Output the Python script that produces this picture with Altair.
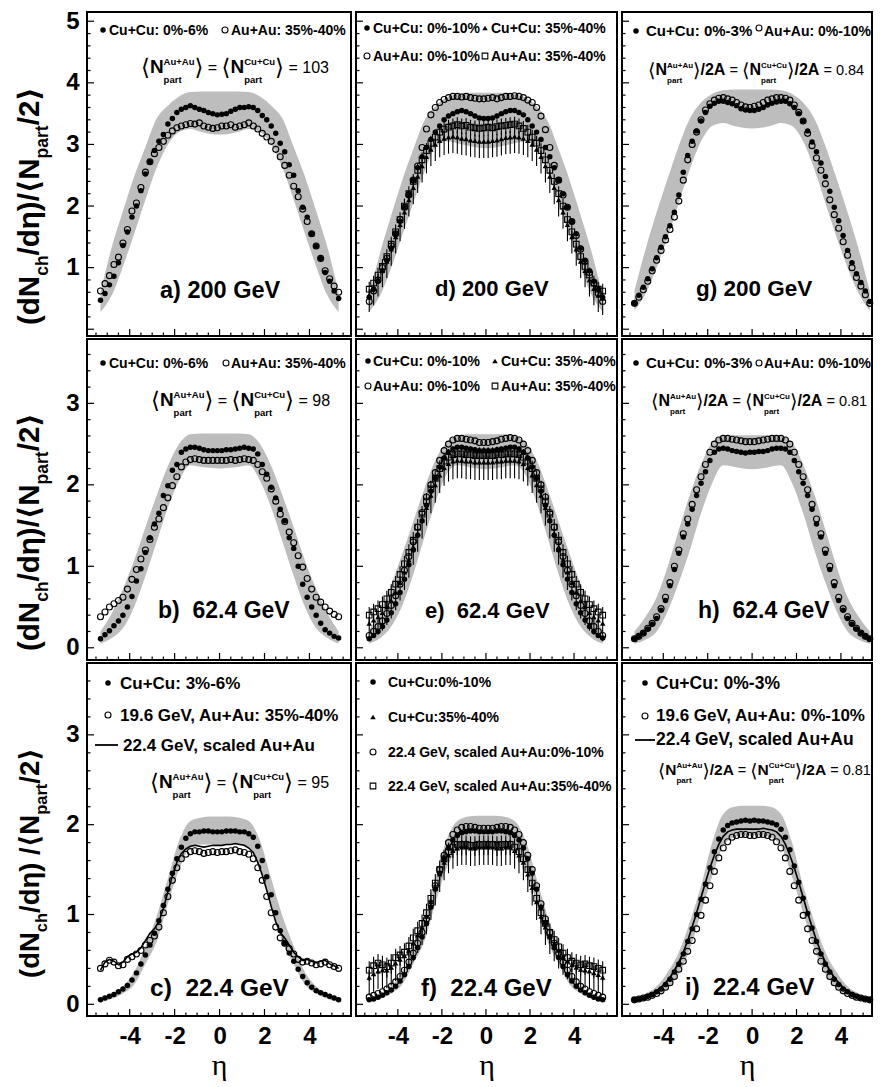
import altair as alt
import pandas as pd

# ---------------- data ----------------
ETA = [-5.3, -5.1, -4.9, -4.7, -4.5, -4.3, -4.1, -3.9, -3.7, -3.5, -3.3, -3.1, -2.9, -2.7,
       -2.5, -2.3, -2.1, -1.9, -1.7, -1.5, -1.3, -1.1, -0.9, -0.7, -0.5, -0.3, -0.1,
       0.1, 0.3, 0.5, 0.7, 0.9, 1.1, 1.3, 1.5, 1.7, 1.9, 2.1, 2.3, 2.5, 2.7, 2.9, 3.1,
       3.3, 3.5, 3.7, 3.9, 4.1, 4.3, 4.5, 4.7, 4.9, 5.1, 5.3]
BAND_ETA = [-5.3, -4.8, -4.3, -3.8, -3.3, -2.8, -2.3, -1.8, -1.3, -0.8, -0.4, 0.0,
            0.4, 0.8, 1.3, 1.8, 2.3, 2.8, 3.3, 3.8, 4.3, 4.8, 5.3]

# a) 200 GeV
A_CU = [0.47, 0.58, 0.72, 0.86, 1.08, 1.36, 1.58, 1.82, 2.00, 2.25, 2.52, 2.72, 2.90, 3.05, 3.16, 3.33, 3.42, 3.52, 3.57, 3.60, 3.63, 3.60, 3.57, 3.55, 3.52, 3.50, 3.48] + \
       [3.49, 3.50, 3.54, 3.57, 3.60, 3.60, 3.61, 3.60, 3.55, 3.47, 3.40, 3.30, 3.18, 3.02, 2.88, 2.67, 2.50, 2.25, 1.98, 1.82, 1.55, 1.35, 1.15, 0.92, 0.78, 0.62, 0.50]
A_AU = [0.62, 0.74, 0.87, 1.05, 1.17, 1.40, 1.62, 1.92, 2.05, 2.30, 2.55, 2.72, 2.85, 2.95, 3.05, 3.15, 3.22, 3.27, 3.30, 3.32, 3.34, 3.33, 3.35, 3.30, 3.28, 3.26, 3.27] + \
       [3.30, 3.30, 3.32, 3.28, 3.30, 3.32, 3.35, 3.30, 3.25, 3.18, 3.12, 3.05, 2.92, 2.80, 2.66, 2.50, 2.32, 2.15, 1.95, 1.75, 1.55, 1.35, 1.15, 0.95, 0.82, 0.70, 0.60]
A_HI = [0.60, 1.33, 1.92, 2.48, 2.96, 3.42, 3.63, 3.78, 3.85, 3.86, 3.86, 3.86, 3.86, 3.86, 3.85, 3.78, 3.63, 3.42, 2.96, 2.48, 1.92, 1.33, 0.60]
A_LO = [0.28, 0.55, 1.02, 1.55, 2.10, 2.62, 3.00, 3.20, 3.25, 3.20, 3.17, 3.16, 3.17, 3.20, 3.25, 3.20, 3.00, 2.62, 2.10, 1.55, 1.02, 0.55, 0.28]

# d) 200 GeV
D_AU0 = [0.45, 0.62, 0.80, 1.00, 1.15, 1.35, 1.55, 1.78, 1.98, 2.18, 2.42, 2.65, 2.95, 3.25, 3.48, 3.60, 3.68, 3.73, 3.76, 3.78, 3.78, 3.77, 3.78, 3.76, 3.75, 3.74, 3.74] + \
        [3.75, 3.76, 3.74, 3.76, 3.78, 3.78, 3.79, 3.78, 3.76, 3.72, 3.68, 3.60, 3.46, 3.24, 2.95, 2.66, 2.42, 2.18, 1.98, 1.75, 1.52, 1.30, 1.10, 0.92, 0.75, 0.58, 0.45]
D_CU0 = [0.52, 0.65, 0.78, 0.95, 1.12, 1.32, 1.55, 1.75, 1.98, 2.20, 2.42, 2.62, 2.80, 2.95, 3.08, 3.20, 3.30, 3.40, 3.46, 3.50, 3.53, 3.55, 3.53, 3.50, 3.46, 3.43, 3.42] + \
        [3.42, 3.43, 3.46, 3.50, 3.53, 3.55, 3.55, 3.52, 3.48, 3.40, 3.30, 3.20, 3.08, 2.95, 2.80, 2.62, 2.42, 2.20, 1.98, 1.75, 1.55, 1.32, 1.12, 0.95, 0.78, 0.65, 0.52]
D_AU35 = [0.65, 0.75, 0.88, 1.02, 1.18, 1.38, 1.58, 1.78, 2.00, 2.20, 2.40, 2.58, 2.75, 2.90, 3.02, 3.12, 3.20, 3.25, 3.28, 3.30, 3.32, 3.30, 3.31, 3.28, 3.27, 3.26, 3.27] + \
         [3.28, 3.27, 3.29, 3.30, 3.31, 3.32, 3.33, 3.30, 3.26, 3.20, 3.12, 3.02, 2.90, 2.75, 2.58, 2.40, 2.20, 2.00, 1.78, 1.58, 1.38, 1.18, 1.02, 0.88, 0.75, 0.65, 0.62]
D_CU35 = [0.55, 0.66, 0.80, 0.95, 1.10, 1.30, 1.50, 1.70, 1.90, 2.10, 2.30, 2.48, 2.65, 2.80, 2.92, 3.00, 3.06, 3.10, 3.12, 3.13, 3.12, 3.10, 3.09, 3.07, 3.06, 3.05, 3.05] + \
         [3.05, 3.06, 3.07, 3.09, 3.11, 3.12, 3.13, 3.12, 3.10, 3.06, 3.00, 2.92, 2.80, 2.65, 2.48, 2.30, 2.10, 1.90, 1.70, 1.50, 1.30, 1.10, 0.95, 0.80, 0.66, 0.55, 0.50]
D_HI = [0.55, 1.25, 1.85, 2.42, 2.92, 3.38, 3.62, 3.76, 3.82, 3.84, 3.84, 3.84, 3.84, 3.84, 3.82, 3.76, 3.62, 3.38, 2.92, 2.42, 1.85, 1.25, 0.55]
D_LO = [0.28, 0.55, 1.00, 1.52, 2.05, 2.55, 2.95, 3.05, 3.02, 2.98, 2.95, 2.94, 2.95, 2.98, 3.02, 3.05, 2.95, 2.55, 2.05, 1.52, 1.00, 0.55, 0.28]
D_ERR_TRI = (0.27, 0.10)
D_ERR_SQ = (0.14, 0.12)

# g) 200 GeV
G_CU = [0.42, 0.55, 0.68, 0.82, 0.98, 1.16, 1.33, 1.50, 1.68, 1.90, 2.18, 2.55, 2.82, 3.05, 3.22, 3.38, 3.52, 3.62, 3.67, 3.70, 3.70, 3.68, 3.66, 3.63, 3.58, 3.56, 3.55] + \
       [3.55, 3.57, 3.60, 3.64, 3.67, 3.69, 3.70, 3.70, 3.66, 3.60, 3.50, 3.38, 3.22, 3.04, 2.88, 2.70, 2.48, 2.24, 1.98, 1.76, 1.52, 1.28, 1.08, 0.90, 0.76, 0.62, 0.45]
G_AU = [0.42, 0.52, 0.64, 0.78, 0.95, 1.12, 1.28, 1.45, 1.62, 1.82, 2.08, 2.42, 2.75, 3.00, 3.20, 3.40, 3.56, 3.66, 3.72, 3.75, 3.76, 3.74, 3.72, 3.68, 3.64, 3.61, 3.60] + \
       [3.62, 3.64, 3.68, 3.72, 3.74, 3.76, 3.76, 3.75, 3.72, 3.64, 3.52, 3.38, 3.18, 2.98, 2.78, 2.58, 2.36, 2.10, 1.86, 1.64, 1.42, 1.20, 1.00, 0.84, 0.70, 0.56, 0.42]
G_HI = [0.62, 1.30, 1.90, 2.45, 2.98, 3.42, 3.68, 3.82, 3.88, 3.89, 3.89, 3.89, 3.89, 3.89, 3.88, 3.82, 3.68, 3.42, 2.98, 2.45, 1.90, 1.30, 0.62]
G_LO = [0.30, 0.58, 1.00, 1.50, 2.05, 2.60, 3.05, 3.30, 3.35, 3.30, 3.27, 3.26, 3.27, 3.30, 3.35, 3.30, 3.05, 2.60, 2.05, 1.50, 1.00, 0.58, 0.30]

# b) 62.4 GeV
B_CU = [0.11, 0.16, 0.21, 0.27, 0.33, 0.40, 0.50, 0.63, 0.82, 0.97, 1.17, 1.35, 1.52, 1.65, 1.87, 1.99, 2.18, 2.25, 2.40, 2.44, 2.46, 2.46, 2.45, 2.43, 2.42, 2.42, 2.42] + \
       [2.42, 2.43, 2.43, 2.44, 2.45, 2.46, 2.45, 2.44, 2.38, 2.25, 2.13, 1.97, 1.84, 1.70, 1.56, 1.35, 1.22, 1.00, 0.78, 0.62, 0.50, 0.40, 0.30, 0.22, 0.18, 0.14, 0.12]
B_AU = [0.38, 0.44, 0.50, 0.54, 0.58, 0.62, 0.72, 0.84, 0.96, 1.09, 1.20, 1.33, 1.48, 1.58, 1.72, 1.84, 1.99, 2.10, 2.22, 2.28, 2.31, 2.32, 2.31, 2.30, 2.30, 2.30, 2.30] + \
       [2.30, 2.30, 2.31, 2.30, 2.31, 2.32, 2.31, 2.30, 2.25, 2.16, 2.08, 1.95, 1.80, 1.64, 1.55, 1.42, 1.29, 1.13, 0.99, 0.85, 0.72, 0.62, 0.56, 0.50, 0.45, 0.41, 0.38]
B_HI = [0.20, 0.42, 0.72, 1.07, 1.48, 1.87, 2.23, 2.50, 2.62, 2.63, 2.63, 2.63, 2.63, 2.63, 2.62, 2.50, 2.23, 1.87, 1.48, 1.07, 0.72, 0.42, 0.20]
B_LO = [0.05, 0.12, 0.24, 0.50, 0.88, 1.30, 1.72, 2.05, 2.24, 2.22, 2.21, 2.20, 2.21, 2.22, 2.24, 2.05, 1.72, 1.30, 0.88, 0.50, 0.24, 0.12, 0.05]

# e) 62.4 GeV
E_AU0 = [0.15, 0.20, 0.26, 0.33, 0.42, 0.52, 0.64, 0.78, 0.95, 1.12, 1.30, 1.48, 1.66, 1.85, 2.00, 2.15, 2.30, 2.42, 2.50, 2.55, 2.57, 2.57, 2.56, 2.55, 2.54, 2.52, 2.52] + \
        [2.52, 2.53, 2.54, 2.56, 2.57, 2.58, 2.57, 2.55, 2.50, 2.42, 2.30, 2.15, 2.00, 1.85, 1.66, 1.48, 1.30, 1.12, 0.95, 0.78, 0.64, 0.52, 0.42, 0.33, 0.26, 0.20, 0.15]
E_CU0 = [0.11, 0.15, 0.20, 0.26, 0.34, 0.43, 0.54, 0.68, 0.84, 1.02, 1.20, 1.38, 1.56, 1.75, 1.92, 2.08, 2.22, 2.33, 2.40, 2.44, 2.46, 2.46, 2.45, 2.44, 2.43, 2.42, 2.42] + \
        [2.42, 2.42, 2.43, 2.44, 2.45, 2.46, 2.46, 2.44, 2.40, 2.33, 2.22, 2.08, 1.92, 1.75, 1.56, 1.38, 1.20, 1.02, 0.84, 0.68, 0.54, 0.43, 0.34, 0.26, 0.20, 0.15, 0.12]
E_AU35 = [0.40, 0.44, 0.48, 0.53, 0.60, 0.68, 0.78, 0.90, 1.03, 1.17, 1.32, 1.48, 1.64, 1.80, 1.95, 2.08, 2.20, 2.29, 2.34, 2.37, 2.38, 2.38, 2.37, 2.37, 2.36, 2.36, 2.36] + \
         [2.36, 2.36, 2.37, 2.37, 2.38, 2.38, 2.38, 2.37, 2.34, 2.29, 2.20, 2.08, 1.95, 1.80, 1.64, 1.48, 1.32, 1.17, 1.03, 0.90, 0.78, 0.68, 0.60, 0.53, 0.48, 0.44, 0.40]
E_CU35 = [0.30, 0.34, 0.38, 0.43, 0.50, 0.58, 0.68, 0.80, 0.93, 1.08, 1.24, 1.40, 1.56, 1.72, 1.87, 2.00, 2.12, 2.21, 2.26, 2.29, 2.30, 2.30, 2.29, 2.29, 2.28, 2.28, 2.28] + \
         [2.28, 2.28, 2.29, 2.29, 2.30, 2.30, 2.30, 2.29, 2.26, 2.21, 2.12, 2.00, 1.87, 1.72, 1.56, 1.40, 1.24, 1.08, 0.93, 0.80, 0.68, 0.58, 0.50, 0.43, 0.38, 0.34, 0.30]
E_HI = [0.22, 0.45, 0.78, 1.15, 1.55, 1.95, 2.30, 2.52, 2.60, 2.62, 2.62, 2.62, 2.62, 2.62, 2.60, 2.52, 2.30, 1.95, 1.55, 1.15, 0.78, 0.45, 0.22]
E_LO = [0.05, 0.12, 0.26, 0.52, 0.90, 1.35, 1.78, 2.12, 2.24, 2.22, 2.20, 2.19, 2.20, 2.22, 2.24, 2.12, 1.78, 1.35, 0.90, 0.52, 0.26, 0.12, 0.05]
E_ERR_TRI = (0.22, 0.08)
E_ERR_SQ = (0.12, 0.10)

# h) 62.4 GeV
H_CU = [0.11, 0.14, 0.18, 0.23, 0.29, 0.36, 0.46, 0.58, 0.76, 0.96, 1.16, 1.36, 1.52, 1.70, 1.87, 2.02, 2.16, 2.30, 2.40, 2.44, 2.45, 2.44, 2.42, 2.41, 2.40, 2.39, 2.40] + \
       [2.40, 2.41, 2.41, 2.42, 2.44, 2.45, 2.45, 2.44, 2.40, 2.30, 2.16, 2.02, 1.87, 1.70, 1.52, 1.36, 1.16, 0.96, 0.76, 0.58, 0.46, 0.36, 0.29, 0.23, 0.18, 0.14, 0.11]
H_AU = [0.11, 0.14, 0.18, 0.24, 0.30, 0.38, 0.48, 0.62, 0.80, 1.00, 1.20, 1.40, 1.58, 1.76, 1.94, 2.10, 2.25, 2.40, 2.50, 2.55, 2.57, 2.57, 2.56, 2.55, 2.54, 2.53, 2.53] + \
       [2.53, 2.54, 2.55, 2.56, 2.57, 2.57, 2.57, 2.55, 2.50, 2.40, 2.25, 2.10, 1.94, 1.76, 1.58, 1.40, 1.20, 1.00, 0.80, 0.62, 0.48, 0.38, 0.30, 0.24, 0.18, 0.14, 0.11]
H_HI = [0.20, 0.38, 0.62, 1.00, 1.45, 1.88, 2.25, 2.52, 2.60, 2.61, 2.61, 2.61, 2.61, 2.61, 2.60, 2.52, 2.25, 1.88, 1.45, 1.00, 0.62, 0.38, 0.20]
H_LO = [0.05, 0.10, 0.20, 0.45, 0.80, 1.20, 1.65, 2.02, 2.24, 2.22, 2.20, 2.19, 2.20, 2.22, 2.24, 2.02, 1.65, 1.20, 0.80, 0.45, 0.20, 0.10, 0.05]

# c) 22.4 GeV
C_CU = [0.05, 0.07, 0.09, 0.11, 0.14, 0.17, 0.21, 0.27, 0.35, 0.45, 0.55, 0.66, 0.79, 0.93, 1.10, 1.28, 1.46, 1.62, 1.75, 1.85, 1.90, 1.92, 1.92, 1.93, 1.93, 1.92, 1.92] + \
       [1.92, 1.93, 1.93, 1.93, 1.92, 1.92, 1.90, 1.86, 1.76, 1.60, 1.42, 1.22, 1.02, 0.82, 0.68, 0.57, 0.48, 0.39, 0.31, 0.24, 0.19, 0.15, 0.13, 0.11, 0.09, 0.07, 0.05]
C_AU = [0.40, 0.45, 0.49, 0.47, 0.43, 0.44, 0.50, 0.53, 0.56, 0.60, 0.66, 0.71, 0.76, 0.86, 1.02, 1.20, 1.38, 1.52, 1.62, 1.67, 1.70, 1.71, 1.70, 1.68, 1.69, 1.70, 1.69] + \
       [1.70, 1.70, 1.71, 1.72, 1.70, 1.69, 1.67, 1.62, 1.52, 1.38, 1.20, 1.02, 0.86, 0.74, 0.68, 0.62, 0.56, 0.50, 0.47, 0.48, 0.46, 0.44, 0.45, 0.47, 0.44, 0.42, 0.40]
C_LINE = [0.38, 0.47, 0.50, 0.48, 0.44, 0.47, 0.53, 0.56, 0.58, 0.63, 0.71, 0.79, 0.84, 0.92, 1.07, 1.25, 1.43, 1.58, 1.68, 1.73, 1.76, 1.77, 1.76, 1.75, 1.76, 1.77, 1.77] + \
         [1.77, 1.78, 1.78, 1.79, 1.78, 1.77, 1.74, 1.69, 1.58, 1.44, 1.27, 1.09, 0.92, 0.80, 0.74, 0.66, 0.58, 0.53, 0.49, 0.50, 0.48, 0.46, 0.48, 0.49, 0.45, 0.43, 0.40]
C_HI = [0.08, 0.12, 0.20, 0.36, 0.65, 0.98, 1.40, 1.82, 2.04, 2.08, 2.09, 2.09, 2.09, 2.08, 2.04, 1.82, 1.40, 0.98, 0.65, 0.36, 0.20, 0.12, 0.08]
C_LO = [0.03, 0.06, 0.12, 0.22, 0.45, 0.70, 1.12, 1.50, 1.74, 1.78, 1.78, 1.78, 1.78, 1.78, 1.74, 1.50, 1.12, 0.70, 0.45, 0.22, 0.12, 0.06, 0.03]

# f) 22.4 GeV
F_CU0 = [0.05, 0.06, 0.08, 0.10, 0.13, 0.16, 0.20, 0.26, 0.33, 0.42, 0.52, 0.63, 0.75, 0.90, 1.08, 1.28, 1.46, 1.62, 1.74, 1.83, 1.88, 1.91, 1.92, 1.93, 1.93, 1.92, 1.92] + \
        [1.92, 1.92, 1.93, 1.93, 1.92, 1.91, 1.88, 1.83, 1.74, 1.62, 1.46, 1.28, 1.08, 0.90, 0.75, 0.63, 0.52, 0.42, 0.33, 0.26, 0.20, 0.16, 0.13, 0.10, 0.08, 0.06, 0.05]
F_AU0 = [0.08, 0.10, 0.12, 0.14, 0.17, 0.20, 0.25, 0.31, 0.38, 0.47, 0.57, 0.68, 0.80, 0.95, 1.12, 1.32, 1.50, 1.66, 1.80, 1.89, 1.94, 1.97, 1.98, 1.98, 1.97, 1.96, 1.96] + \
        [1.96, 1.96, 1.97, 1.98, 1.98, 1.97, 1.94, 1.89, 1.80, 1.66, 1.50, 1.32, 1.12, 0.95, 0.80, 0.68, 0.57, 0.47, 0.38, 0.31, 0.25, 0.20, 0.17, 0.14, 0.12, 0.10, 0.08]
F_AU35 = [0.38, 0.43, 0.46, 0.44, 0.42, 0.46, 0.52, 0.55, 0.58, 0.65, 0.74, 0.82, 0.90, 1.02, 1.18, 1.35, 1.50, 1.62, 1.70, 1.75, 1.78, 1.78, 1.78, 1.77, 1.77, 1.78, 1.78] + \
         [1.78, 1.78, 1.77, 1.78, 1.78, 1.78, 1.75, 1.70, 1.62, 1.50, 1.35, 1.18, 1.02, 0.90, 0.80, 0.72, 0.64, 0.57, 0.52, 0.48, 0.46, 0.44, 0.45, 0.43, 0.42, 0.40, 0.38]
F_CU35 = [0.30, 0.34, 0.37, 0.38, 0.38, 0.41, 0.46, 0.50, 0.54, 0.60, 0.68, 0.77, 0.86, 0.98, 1.14, 1.30, 1.45, 1.58, 1.66, 1.71, 1.74, 1.75, 1.75, 1.74, 1.74, 1.75, 1.75] + \
         [1.75, 1.75, 1.74, 1.74, 1.75, 1.75, 1.71, 1.66, 1.58, 1.45, 1.30, 1.14, 0.98, 0.86, 0.76, 0.68, 0.60, 0.53, 0.48, 0.44, 0.41, 0.39, 0.38, 0.37, 0.35, 0.33, 0.30]
F_HI = [0.08, 0.12, 0.20, 0.36, 0.65, 0.98, 1.40, 1.82, 2.04, 2.09, 2.10, 2.10, 2.10, 2.09, 2.04, 1.82, 1.40, 0.98, 0.65, 0.36, 0.20, 0.12, 0.08]
F_LO = [0.03, 0.06, 0.12, 0.22, 0.45, 0.70, 1.12, 1.50, 1.72, 1.76, 1.76, 1.76, 1.76, 1.76, 1.72, 1.50, 1.12, 0.70, 0.45, 0.22, 0.12, 0.06, 0.03]
F_ERR_TRI = (0.20, 0.08)
F_ERR_SQ = (0.12, 0.10)

# i) 22.4 GeV
I_CU = [0.05, 0.06, 0.07, 0.09, 0.11, 0.14, 0.17, 0.22, 0.28, 0.36, 0.45, 0.56, 0.70, 0.84, 1.00, 1.17, 1.34, 1.52, 1.70, 1.84, 1.94, 1.99, 2.02, 2.03, 2.04, 2.05, 2.04] + \
       [2.05, 2.04, 2.04, 2.03, 2.02, 2.00, 1.95, 1.86, 1.72, 1.54, 1.36, 1.18, 1.01, 0.85, 0.70, 0.56, 0.45, 0.36, 0.28, 0.22, 0.17, 0.14, 0.11, 0.09, 0.07, 0.06, 0.05]
I_AU = [0.05, 0.06, 0.07, 0.08, 0.10, 0.12, 0.15, 0.19, 0.24, 0.31, 0.39, 0.48, 0.59, 0.71, 0.84, 0.99, 1.16, 1.32, 1.48, 1.63, 1.74, 1.81, 1.86, 1.88, 1.89, 1.89, 1.88] + \
       [1.88, 1.89, 1.89, 1.88, 1.86, 1.81, 1.74, 1.63, 1.48, 1.32, 1.16, 0.99, 0.84, 0.71, 0.59, 0.48, 0.39, 0.31, 0.24, 0.19, 0.15, 0.12, 0.10, 0.08, 0.07, 0.06, 0.05]
I_LINE = [0.05, 0.06, 0.08, 0.10, 0.12, 0.15, 0.19, 0.24, 0.30, 0.38, 0.47, 0.58, 0.71, 0.86, 1.02, 1.19, 1.36, 1.52, 1.66, 1.78, 1.87, 1.92, 1.94, 1.95, 1.95, 1.95, 1.95] + \
         [1.95, 1.95, 1.96, 1.95, 1.94, 1.92, 1.87, 1.78, 1.66, 1.52, 1.36, 1.19, 1.02, 0.86, 0.71, 0.58, 0.47, 0.38, 0.30, 0.24, 0.19, 0.15, 0.12, 0.10, 0.08, 0.06, 0.05]
I_HI = [0.08, 0.12, 0.20, 0.36, 0.58, 0.92, 1.32, 1.80, 2.12, 2.20, 2.21, 2.21, 2.21, 2.20, 2.12, 1.80, 1.32, 0.92, 0.58, 0.36, 0.20, 0.12, 0.08]
I_LO = [0.02, 0.05, 0.10, 0.18, 0.34, 0.62, 1.02, 1.42, 1.76, 1.86, 1.88, 1.88, 1.88, 1.86, 1.76, 1.42, 1.02, 0.62, 0.34, 0.18, 0.10, 0.05, 0.02]

X_LABELS = [-4, -2, 0, 2, 4]
Y_LABELS = [[1, 2, 3, 4, 5], [0, 1, 2, 3], [0, 1, 2, 3]]

# ---------------- layout ----------------
COLS = [dict(left=94, w=264, dom=[-5.9, 5.85]),
        dict(left=363, w=261, dom=[-5.9, 5.95]),
        dict(left=629, w=250, dom=[-5.86, 5.4])]
ROWS = [dict(top=9, h=324, dom=[-0.11, 5.15]),
        dict(top=336, h=321, dom=[-0.15, 3.79]),
        dict(top=660, h=353, dom=[-0.13, 3.80])]
FONTS = {'L': "Liberation Sans, Arial, sans-serif", 'D': "DejaVu Sans"}
BAND_COLOR = "#bdbdbd"

BW = {' ': 278, '\u00a0': 278, '%': 889, '(': 333, ')': 333, '+': 584, ',': 278, '-': 333, '.': 278,
      '/': 278, ':': 333, '=': 584, 'A': 722, 'C': 722, 'G': 778, 'N': 722, 'V': 667,
      'a': 556, 'b': 611, 'c': 556, 'd': 611, 'e': 556, 'f': 333, 'g': 611, 'h': 611, 'i': 278,
      'l': 278, 'p': 611, 'r': 389, 's': 556, 't': 333, 'u': 611, 'η': 611}
RW = {' ': 278, '%': 889, '(': 333, ')': 333, '+': 584, ',': 278, '-': 333, '.': 278, '/': 278,
      ':': 278, '=': 584}
for _d in '0123456789':
    BW[_d] = 556
    RW[_d] = 556


def tw(s, fs, bold, fk='L'):
    if fk == 'D':
        return len(s) * (457 if bold else 390) * fs / 1000.0
    tab = BW if bold else RW
    return sum(tab.get(ch, 556) for ch in s) * fs / 1000.0


def B(t, fs, dy=0):
    return ('txt', t.replace('  ', ' \u00a0'), fs, True, dy, 'L')


def R(t, fs, dy=0):
    return ('txt', t, fs, False, dy, 'L')


def nbar(sup, S, s):
    br = 1.2 * S
    return [('txt', '⟨', br, False, 0.1 * S, 'D'), ('txt', 'N', S, True, 0, 'L'),
            ('stack', sup, 'part', s, True, -0.42 * S, 0.5 * S),
            ('txt', '⟩', br, False, 0.1 * S, 'D')]


def nline(val, S, s, reg, per2A):
    tail = [('txt', '/2A', S, True, 0, 'L')] if per2A else []
    return (nbar('Au+Au', S, s) + tail + [R(' = ', reg)] +
            nbar('Cu+Cu', S, s) + tail + [R(' = ' + val, reg)])


def layout(x0, y0, items):
    out = []
    x = x0
    for it in items:
        if it[0] == 'stack':
            _, sup, sub, fs, bold, dsup, dsub = it
            out.append((sup, x, y0 + dsup, fs, bold, 'L', 0))
            out.append((sub, x, y0 + dsub, fs, bold, 'L', 0))
            x += max(tw(sup, fs, bold), tw(sub, fs, bold))
        else:
            _, t, fs, bold, dy, fk = it
            lead = len(t) - len(t.lstrip(' '))
            out.append((t.strip(' '), x + tw(' ' * lead, fs, bold, fk), y0 + dy, fs, bold, fk, 0))
            x += tw(t, fs, bold, fk)
    return out


# (main size, subscript size, bottom start y, extra space)
TITLE_CFG = [(29.5, 17.5, 322, False), (29.5, 17.5, 648, False), (27.5, 16.5, 975, True)]


def ytitle(r):
    F, s, start, spaced = TITLE_CFG[r]
    base_x = 46
    pieces = [('(dN', F, False, 'L'), ('ch', s, True, 'L'),
              ('/dη)' + (' ' if spaced else '') + '/', F, False, 'L'), ('⟨', F, False, 'D'),
              ('N', F, False, 'L'), ('part', s, True, 'L'), ('/2', F, False, 'L'), ('⟩', F, False, 'D')]
    out = []
    y = start
    for t, fs, sub, fk in pieces:
        out.append((t, base_x + (0.3 * F if sub else 0), y, fs, True, fk, 270))
        y -= tw(t, fs, True, fk)
    return out


PANELS = [
    dict(r=0, c=0, band=(A_LO, A_HI), series=[('fc', A_CU, None), ('oc', A_AU, None)],
         runs=[(116, 32, [B('Cu+Cu: 0%-6%', 14)]), (238, 32, [B('Au+Au: 35%-40%', 14)]),
               (148, 70, nline('103', 19, 9.5, 16, False)), (167, 295, [B('a) 200 GeV', 23.5)])],
         markers=[('fc', 110, 27), ('oc', 232, 27)], lines=[]),
    dict(r=0, c=1, band=(D_LO, D_HI),
         series=[('tri', D_CU35, D_ERR_TRI), ('sq', D_AU35, D_ERR_SQ), ('fc', D_CU0, None), ('oc', D_AU0, None)],
         runs=[(380, 30, [B('Cu+Cu: 0%-10%', 14)]), (498, 30, [B('Cu+Cu: 35%-40%', 14)]),
               (380, 58, [B('Au+Au: 0%-10%', 14)]), (498, 58, [B('Au+Au: 35%-40%', 14)]),
               (442, 293, [B('d) 200 GeV', 22)])],
         markers=[('fc', 374, 25), ('tri', 492, 25), ('oc', 374, 53), ('sq', 492, 53)], lines=[]),
    dict(r=0, c=2, band=(G_LO, G_HI), series=[('fc', G_CU, None), ('oc', G_AU, None)],
         runs=[(653, 33, [B('Cu+Cu: 0%-3%', 15)]), (771, 33, [B('Au+Au: 0%-10%', 14)]),
               (655, 72, nline('0.84', 16, 8, 14.5, True)), (703, 293, [B('g) 200 GeV', 22.5)])],
         markers=[('fc', 643, 28), ('oc', 766, 25)], lines=[]),
    dict(r=1, c=0, band=(B_LO, B_HI), series=[('fc', B_CU, None), ('oc', B_AU, None)],
         runs=[(116, 365, [B('Cu+Cu: 0%-6%', 14)]), (238, 365, [B('Au+Au: 35%-40%', 14)]),
               (158, 403, nline('98', 19, 9.5, 16, False)), (165, 615, [B('b)  62.4 GeV', 23)])],
         markers=[('fc', 110, 360), ('oc', 233, 360)], lines=[]),
    dict(r=1, c=1, band=(E_LO, E_HI),
         series=[('tri', E_CU35, E_ERR_TRI), ('sq', E_AU35, E_ERR_SQ), ('fc', E_CU0, None), ('oc', E_AU0, None)],
         runs=[(380, 363, [B('Cu+Cu: 0%-10%', 14)]), (508, 363, [B('Cu+Cu: 35%-40%', 14)]),
               (380, 388, [B('Au+Au: 0%-10%', 14)]), (508, 388, [B('Au+Au: 35%-40%', 14)]),
               (432, 615, [B('e)  62.4 GeV', 22)])],
         markers=[('fc', 375, 358), ('tri', 502, 358), ('oc', 375, 383), ('sq', 502, 383)], lines=[]),
    dict(r=1, c=2, band=(H_LO, H_HI), series=[('fc', H_CU, None), ('oc', H_AU, None)],
         runs=[(653, 365, [B('Cu+Cu: 0%-3%', 15)]), (771, 365, [B('Au+Au: 0%-10%', 14)]),
               (658, 403, nline('0.81', 16, 8, 14.5, True)), (705, 615, [B('h)  62.4 GeV', 23)])],
         markers=[('fc', 643, 360), ('oc', 766, 360)], lines=[]),
    dict(r=2, c=0, band=(C_LO, C_HI), series=[('line', C_LINE, None), ('fc', C_CU, None), ('oc', C_AU, None)],
         runs=[(127, 686, [B('Cu+Cu: 3%-6%', 17)]), (127, 718, [B('19.6 GeV, Au+Au: 35%-40%', 17)]),
               (130, 748, [B('22.4 GeV, scaled Au+Au', 17)]),
               (157, 785, nline('95', 19, 9.5, 16, False)), (157, 993, [B('c)  22.4 GeV', 24.5)])],
         markers=[('fc', 115, 680), ('oc', 115, 712)], lines=[(102, 125, 742)]),
    dict(r=2, c=1, band=(F_LO, F_HI),
         series=[('tri', F_CU35, F_ERR_TRI), ('sq', F_AU35, F_ERR_SQ), ('fc', F_CU0, None), ('oc', F_AU0, None)],
         runs=[(395, 684, [B('Cu+Cu:0%-10%', 14)]), (395, 719, [B('Cu+Cu:35%-40%', 14)]),
               (395, 754, [B('22.4 GeV, scaled Au+Au:0%-10%', 14)]),
               (395, 788, [B('22.4 GeV, scaled Au+Au:35%-40%', 14)]),
               (428, 993, [B('f)  22.4 GeV', 24)])],
         markers=[('fc', 380, 679), ('tri', 380, 714), ('oc', 380, 749), ('sq', 380, 783)], lines=[]),
    dict(r=2, c=2, band=(I_LO, I_HI), series=[('line', I_LINE, None), ('fc', I_CU, None), ('oc', I_AU, None)],
         runs=[(663, 686, [B('Cu+Cu: 0%-3%', 17.5)]), (663, 718, [B('19.6 GeV, Au+Au: 0%-10%', 17)]),
               (663, 742, [B('22.4 GeV, scaled Au+Au', 17.5)]),
               (665, 772, nline('0.81', 15.5, 8, 14.5, True)), (692, 992, [B('i)  22.4 GeV', 24)])],
         markers=[('fc', 652, 680), ('oc', 652, 713)], lines=[(642, 662, 737)]),
]

STYLE = {
    'fc': dict(shape='circle', filled=True, size=30, strokeWidth=0),
    'oc': dict(shape='circle', filled=False, size=36, strokeWidth=1.1),
    'tri': dict(shape='triangle-up', filled=True, size=30, strokeWidth=0),
    'sq': dict(shape='square', filled=False, size=32, strokeWidth=1.1),
}


def build(p):
    r, c = p['r'], p['c']
    col, row = COLS[c], ROWS[r]
    x0, x1 = col['dom']
    y0, y1 = row['dom']
    pxx = col['w'] / (x1 - x0)
    pxy = row['h'] / (y1 - y0)

    def tod(px, py):
        return x0 + (px - col['left']) / pxx, y1 - (py - row['top']) / pxy

    xs = alt.Scale(domain=col['dom'], nice=False, zero=False)
    ys = alt.Scale(domain=row['dom'], nice=False, zero=False)
    if r == 2:
        xax = alt.Axis(values=X_LABELS, labelExpr="'' + datum.value", labelFont=FONTS['L'], labelFontSize=24,
                       labelFontWeight='bold', labelColor='black', labelPadding=8, ticks=False, tickSize=0,
                       domain=False, grid=False, title='η', titleFont='Liberation Serif, DejaVu Serif',
                       titleFontSize=30, titleFontWeight='normal', titleColor='black', titlePadding=2)
    else:
        xax = None
    if c == 0:
        yax = alt.Axis(values=Y_LABELS[r], labelFont=FONTS['L'], labelFontSize=24, labelFontWeight='bold',
                       labelColor='black', labelPadding=8, ticks=False, tickSize=0, domain=False,
                       grid=False, title=None)
    else:
        yax = None

    def X(f):
        return alt.X(f, type='quantitative', scale=xs, axis=xax)

    def Y(f):
        return alt.Y(f, type='quantitative', scale=ys, axis=yax)

    layers = []
    lo, hi = p['band']
    bdf = pd.DataFrame({'eta': BAND_ETA, 'lo': lo, 'hi': hi})
    layers.append(alt.Chart(bdf).mark_area(color=BAND_COLOR, interpolate='monotone').encode(
        x=X('eta'), y=Y('lo'), y2=alt.Y2('hi')))

    # inner ticks
    tk = []
    k = -11
    while k <= 11:
        t = k * 0.5
        if x0 < t < x1:
            ln = 7 if k % 4 == 0 else 3.5
            tk.append(dict(x=t, x2=t, y=y0, y2=y0 + ln / pxy))
        k += 1
    k = 0
    while k * 0.2 < y1:
        t = k * 0.2
        ln = 7 if k % 5 == 0 else 3.5
        tk.append(dict(x=x0, x2=x0 + ln / pxx, y=t, y2=t))
        k += 1
    layers.append(alt.Chart(pd.DataFrame(tk)).mark_rule(color='black', strokeWidth=1.2).encode(
        x=X('x'), x2=alt.X2('x2'), y=Y('y'), y2=alt.Y2('y2')))

    # error bars
    err = []
    for style, vals, e in p['series']:
        if e is not None:
            for et, v in zip(ETA, vals):
                err.append(dict(eta=et, lo=v - e[0], hi=v + e[1]))
    if err:
        layers.append(alt.Chart(pd.DataFrame(err)).mark_rule(color='black', strokeWidth=1.1).encode(
            x=X('eta'), y=Y('lo'), y2=alt.Y2('hi')))

    # lines
    for style, vals, e in p['series']:
        if style == 'line':
            ldf = pd.DataFrame({'eta': ETA, 'v': vals})
            layers.append(alt.Chart(ldf).mark_line(color='black', strokeWidth=1.6).encode(
                x=X('eta'), y=Y('v')))

    # points
    pts = {k2: [] for k2 in STYLE}
    for style, vals, e in p['series']:
        if style in STYLE:
            for et, v in zip(ETA, vals):
                pts[style].append(dict(eta=et, v=v))
    for style, px, py in p['markers']:
        xd, yd = tod(px, py)
        pts[style].append(dict(eta=xd, v=yd))
    for style in ['tri', 'sq', 'fc', 'oc']:
        if pts[style]:
            st = STYLE[style]
            layers.append(alt.Chart(pd.DataFrame(pts[style])).mark_point(
                shape=st['shape'], filled=st['filled'], size=st['size'], strokeWidth=st['strokeWidth'],
                color='black', opacity=1).encode(x=X('eta'), y=Y('v')))

    # legend line samples
    if p['lines']:
        lr = []
        for a, b, yy in p['lines']:
            xa, yd = tod(a, yy)
            xb, _ = tod(b, yy)
            lr.append(dict(x=xa, x2=xb, y=yd))
        layers.append(alt.Chart(pd.DataFrame(lr)).mark_rule(color='black', strokeWidth=1.8).encode(
            x=X('x'), x2=alt.X2('x2'), y=Y('y')))

    # texts
    items = []
    for rx, ry, its in p['runs']:
        items += layout(rx, ry, its)
    if c == 0:
        items += ytitle(r)
    groups = {}
    for t, px, py, fs, bold, fk, ang in items:
        xd, yd = tod(px, py)
        groups.setdefault((bold, fk), []).append(dict(t=t, x=xd, y=yd, fs=fs, ang=ang))
    for (bold, fk), rows_ in groups.items():
        layers.append(alt.Chart(pd.DataFrame(rows_)).mark_text(
            align='left', baseline='alphabetic', font=FONTS[fk],
            fontWeight='bold' if bold else 'normal', color='black').encode(
            x=X('x'), y=Y('y'), text=alt.Text('t:N'),
            size=alt.Size('fs:Q', scale=None, legend=None),
            angle=alt.Angle('ang:Q', scale=None, legend=None)))

    return alt.layer(*layers).properties(width=col['w'], height=row['h'])


charts = [build(p) for p in PANELS]
chart = alt.concat(*charts, columns=3, spacing={'row': 3, 'column': 5}, bounds='flush', align='each')
chart = chart.configure_view(stroke='black', strokeWidth=2).properties(
    padding={'left': 5, 'top': 0, 'right': 0, 'bottom': 0}, background='white')

chart.save("out.html", embed_options={"renderer": "svg", "actions": False})
